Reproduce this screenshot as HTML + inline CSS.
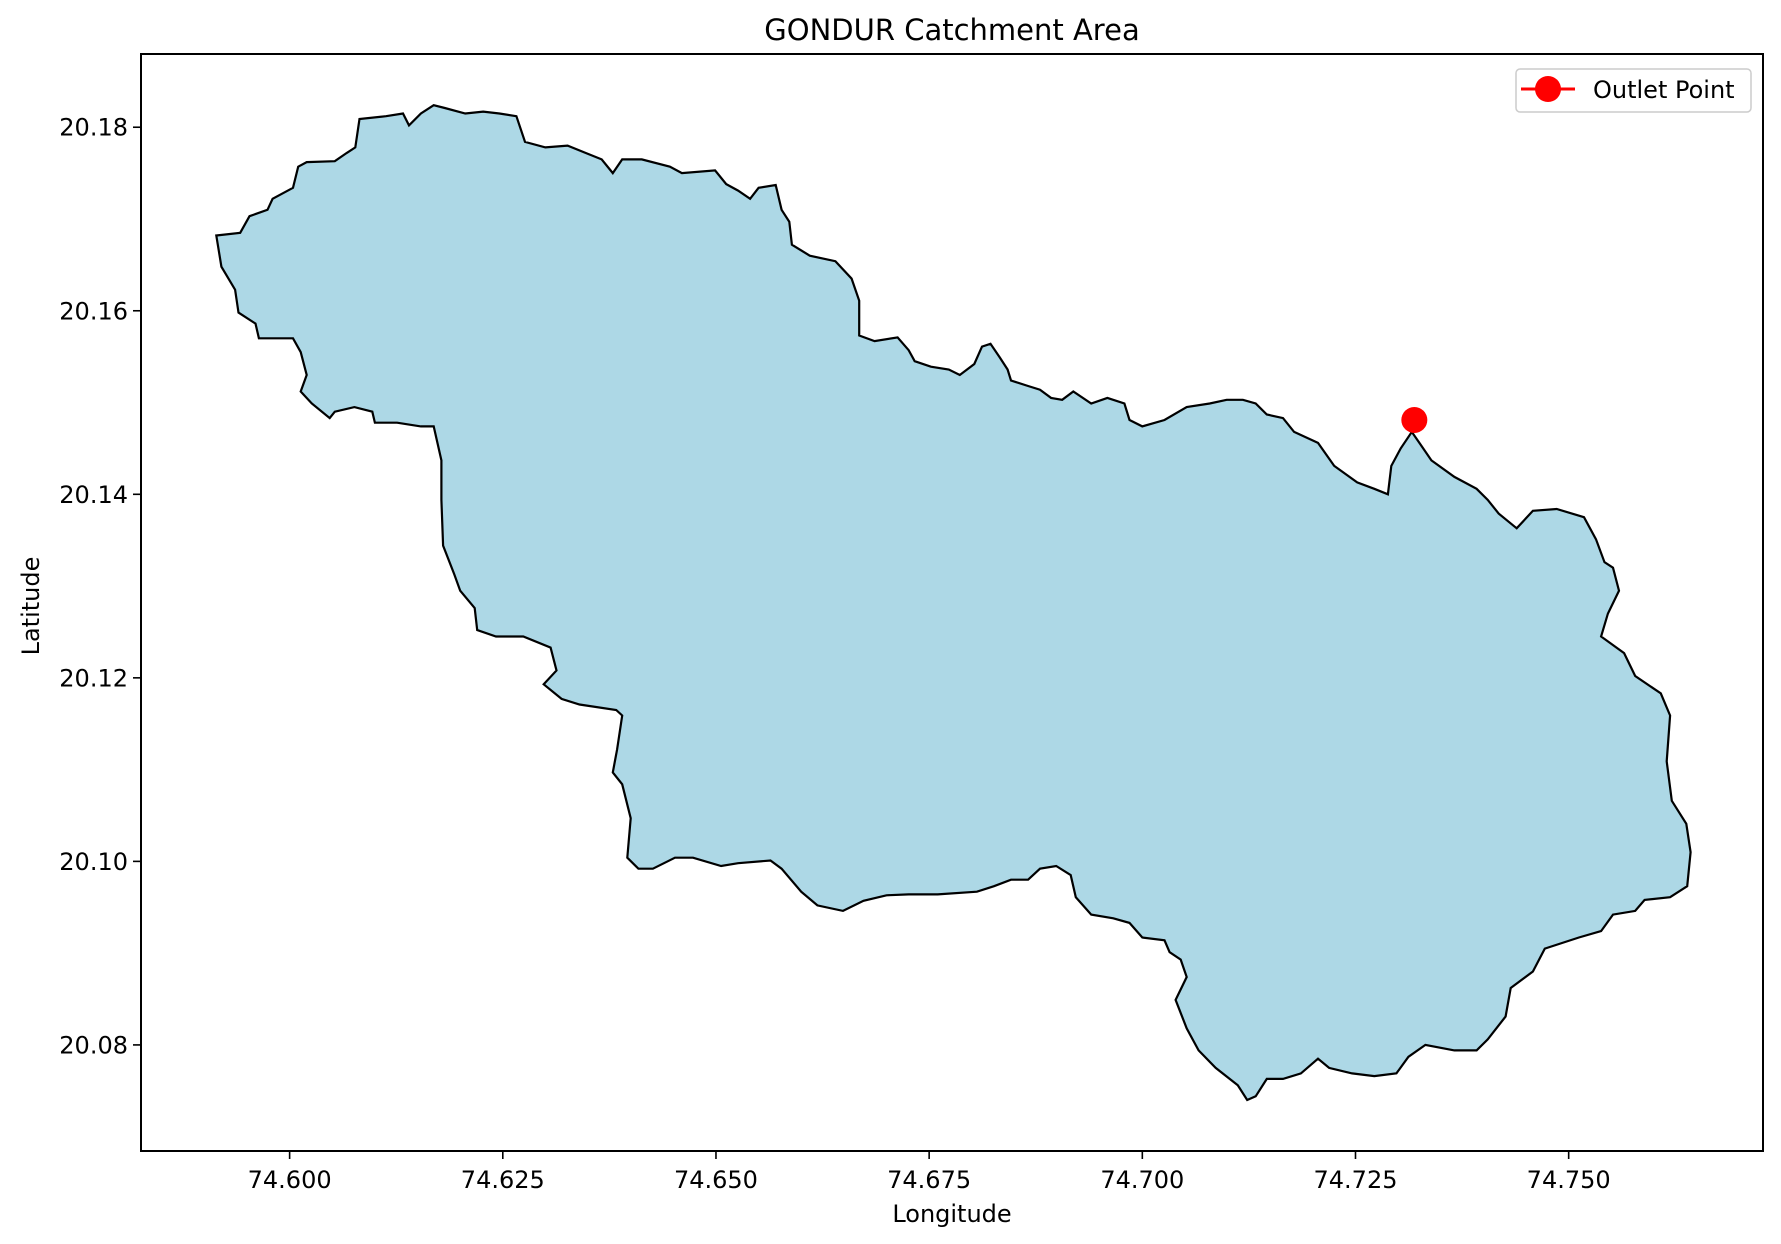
<!DOCTYPE html>
<html><head><meta charset="utf-8"><style>
html,body{margin:0;padding:0;background:#fff}
svg{display:block;font-family:"DejaVu Sans","Liberation Sans",sans-serif}
</style></head><body>
<svg id="chart" width="1781" height="1244" viewBox="0 0 1781 1244" xmlns="http://www.w3.org/2000/svg">
<rect width="1781" height="1244" fill="#fff"/>
<text x="952" y="40" font-size="29" text-anchor="middle" fill="#000">GONDUR Catchment Area</text>
<g id="plot"></g>
<g id="xticks"></g>
<g id="yticks"></g>
<rect x="141" y="54" width="1622" height="1097" fill="none" stroke="#000" stroke-width="2"/>
<text x="952" y="1222" font-size="24" text-anchor="middle">Longitude</text>
<text x="0" y="0" font-size="24" text-anchor="middle" transform="translate(39,606) rotate(-90)">Latitude</text>
<g>
<rect x="1516" y="69" width="235" height="43" rx="4" fill="#fff" fill-opacity="0.8" stroke="#ccc" stroke-width="1.5"/>
<line x1="1521" y1="89" x2="1575" y2="89" stroke="#ff0000" stroke-width="3"/>
<circle cx="1548" cy="89" r="13" fill="#ff0000"/>
<text x="1593" y="98" font-size="24">Outlet Point</text>
</g>
</svg>
<script>
const lons = [74.5914,74.5942,74.5953,74.5974,74.5980,74.6004,74.6010,74.6020,74.6053,74.6067,74.6077,74.6082,74.6113,74.6133,74.6140,74.6154,74.6169,74.6182,74.6206,74.6227,74.6246,74.6266,74.6276,74.6300,74.6326,74.6347,74.6366,74.6379,74.6390,74.6413,74.6446,74.6460,74.6499,74.6512,74.6526,74.6540,74.6550,74.6570,74.6577,74.6586,74.6589,74.6610,74.6640,74.6659,74.6668,74.6668,74.6686,74.6713,74.6726,74.6733,74.6752,74.6773,74.6786,74.6803,74.6812,74.6822,74.6833,74.6842,74.6846,74.6866,74.6880,74.6893,74.6906,74.6919,74.6940,74.6959,74.6979,74.6985,74.7000,74.7026,74.7052,74.7079,74.7099,74.7118,74.7133,74.7146,74.7165,74.7178,74.7206,74.7225,74.7252,74.7272,74.7288,74.7292,74.7303,74.7316,74.7325,74.7339,74.7366,74.7392,74.7405,74.7418,74.7439,74.7458,74.7486,74.7518,74.7532,74.7542,74.7552,74.7559,74.7546,74.7538,74.7565,74.7578,74.7608,74.7619,74.7615,74.7621,74.7638,74.7643,74.7639,74.7619,74.7589,74.7578,74.7552,74.7538,74.7512,74.7472,74.7458,74.7432,74.7426,74.7405,74.7392,74.7366,74.7332,74.7312,74.7298,74.7272,74.7246,74.7219,74.7206,74.7186,74.7165,74.7146,74.7133,74.7123,74.7112,74.7086,74.7066,74.7052,74.7039,74.7052,74.7045,74.7032,74.7026,74.7000,74.6985,74.6966,74.6940,74.6922,74.6916,74.6899,74.6880,74.6866,74.6846,74.6826,74.6806,74.6760,74.6726,74.6700,74.6673,74.6649,74.6619,74.6600,74.6577,74.6564,74.6526,74.6506,74.6473,74.6452,74.6426,74.6409,74.6396,74.6400,74.6390,74.6379,74.6384,74.6390,74.6383,74.6340,74.6319,74.6298,74.6313,74.6306,74.6274,74.6242,74.6220,74.6217,74.6200,74.6193,74.6180,74.6178,74.6178,74.6169,74.6154,74.6126,74.6100,74.6097,74.6076,74.6053,74.6047,74.6026,74.6013,74.6020,74.6013,74.6004,74.5987,74.5964,74.5960,74.5940,74.5936,74.5920];
const lats = [20.1682,20.1685,20.1703,20.1710,20.1722,20.1734,20.1757,20.1762,20.1763,20.1772,20.1778,20.1809,20.1812,20.1815,20.1802,20.1815,20.1824,20.1821,20.1815,20.1817,20.1815,20.1812,20.1784,20.1778,20.1780,20.1772,20.1765,20.1750,20.1765,20.1765,20.1757,20.1750,20.1753,20.1738,20.1731,20.1722,20.1734,20.1737,20.1710,20.1697,20.1672,20.1660,20.1654,20.1635,20.1611,20.1573,20.1567,20.1571,20.1557,20.1545,20.1539,20.1536,20.1530,20.1542,20.1561,20.1564,20.1549,20.1536,20.1524,20.1518,20.1514,20.1505,20.1503,20.1512,20.1499,20.1505,20.1499,20.1481,20.1474,20.1481,20.1495,20.1499,20.1503,20.1503,20.1499,20.1487,20.1483,20.1468,20.1456,20.1431,20.1413,20.1406,20.1400,20.1431,20.1450,20.1468,20.1456,20.1437,20.1419,20.1406,20.1394,20.1379,20.1363,20.1382,20.1384,20.1375,20.1351,20.1326,20.1320,20.1295,20.1270,20.1245,20.1227,20.1202,20.1183,20.1159,20.1109,20.1066,20.1041,20.1010,20.0973,20.0961,20.0958,20.0946,20.0942,20.0924,20.0917,20.0905,20.0880,20.0862,20.0831,20.0806,20.0794,20.0794,20.0800,20.0787,20.0769,20.0766,20.0769,20.0775,20.0785,20.0769,20.0763,20.0763,20.0744,20.0740,20.0756,20.0775,20.0794,20.0818,20.0849,20.0874,20.0893,20.0901,20.0914,20.0917,20.0933,20.0938,20.0942,20.0961,20.0985,20.0995,20.0992,20.0980,20.0980,20.0973,20.0967,20.0964,20.0964,20.0963,20.0957,20.0946,20.0952,20.0967,20.0992,20.1001,20.0998,20.0995,20.1004,20.1004,20.0992,20.0992,20.1004,20.1047,20.1084,20.1097,20.1122,20.1159,20.1165,20.1171,20.1177,20.1193,20.1208,20.1233,20.1245,20.1245,20.1252,20.1276,20.1295,20.1313,20.1344,20.1394,20.1437,20.1474,20.1474,20.1478,20.1478,20.1490,20.1495,20.1490,20.1483,20.1499,20.1512,20.1530,20.1555,20.1570,20.1570,20.1570,20.1586,20.1598,20.1623,20.1648];
const outletLon = [74.7319];
const outletLat = [20.1481];
const xTickVals = [74.600,74.625,74.650,74.675,74.700,74.725,74.750];
const xTickLabels = ["74.600","74.625","74.650","74.675","74.700","74.725","74.750"];
const yTickVals = [20.08,20.10,20.12,20.14,20.16,20.18];
const yTickLabels = ["20.08","20.10","20.12","20.14","20.16","20.18"];

const X0=141,X1=1763,Y0=54,Y1=1151;
const xMin=74.58257,xMax=74.77279,yMin=20.06844,yMax=20.18798;
function sx(v){return X0+(v-xMin)/(xMax-xMin)*(X1-X0);}
function sy(v){return Y1-(v-yMin)/(yMax-yMin)*(Y1-Y0);}
const NS="http://www.w3.org/2000/svg";
const plot=document.getElementById('plot');
let d="";
for(let i=0;i<lons.length;i++){d+=(i?"L":"M")+sx(lons[i]).toFixed(1)+","+sy(lats[i]).toFixed(1);}
d+="Z";
const poly=document.createElementNS(NS,'path');
poly.setAttribute('d',d);
poly.setAttribute('fill','#add8e6');
poly.setAttribute('stroke','#000');
poly.setAttribute('stroke-width','2.2');


plot.appendChild(poly);
for(let i=0;i<outletLon.length;i++){
  const c=document.createElementNS(NS,'circle');
  c.setAttribute('cx',sx(outletLon[i]));c.setAttribute('cy',sy(outletLat[i]));
  c.setAttribute('r','13');c.setAttribute('fill','#ff0000');
  
  
  plot.appendChild(c);
}
const xg=document.getElementById('xticks');
xTickVals.forEach((v,i)=>{
  const x=sx(v);
  const t=document.createElementNS(NS,'line');
  t.setAttribute('x1',x);t.setAttribute('x2',x);t.setAttribute('y1',Y1);t.setAttribute('y2',Y1+8);
  t.setAttribute('stroke','#000');t.setAttribute('stroke-width','1.6');
  
  
  xg.appendChild(t);
  const l=document.createElementNS(NS,'text');
  l.setAttribute('x',x);l.setAttribute('y',Y1+37);l.setAttribute('font-size','24');l.setAttribute('text-anchor','middle');
  l.textContent=xTickLabels[i];
  
  
  xg.appendChild(l);
});
const yg=document.getElementById('yticks');
yTickVals.forEach((v,i)=>{
  const y=sy(v);
  const t=document.createElementNS(NS,'line');
  t.setAttribute('x1',X0-8);t.setAttribute('x2',X0);t.setAttribute('y1',y);t.setAttribute('y2',y);
  t.setAttribute('stroke','#000');t.setAttribute('stroke-width','1.6');
  
  
  yg.appendChild(t);
  const l=document.createElementNS(NS,'text');
  l.setAttribute('x',X0-13);l.setAttribute('y',y+8.5);l.setAttribute('font-size','24');l.setAttribute('text-anchor','end');
  l.textContent=yTickLabels[i];
  
  
  yg.appendChild(l);
});
</script>
</body></html>
